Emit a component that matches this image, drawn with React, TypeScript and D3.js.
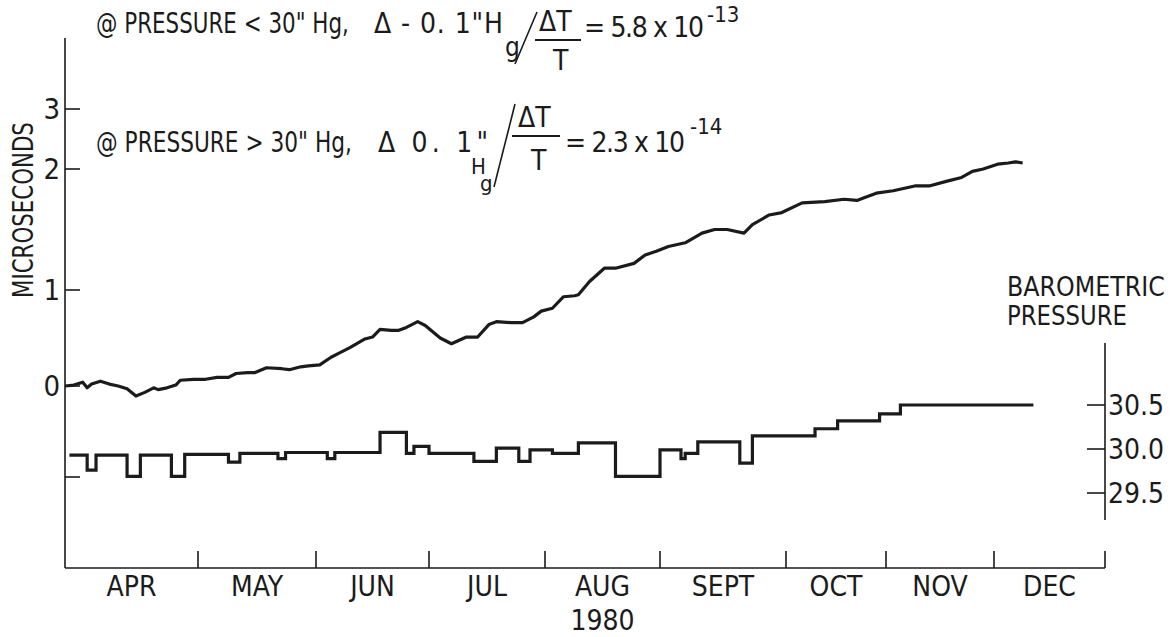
import { useEffect, useRef } from 'react';
import * as d3 from 'd3';

const width = 1174;
const height = 637;
const font = '"Liberation Sans Narrow", "DejaVu Sans Condensed", "Arial Narrow", sans-serif';
const ink = '#1b1b1b';

// x axis: first day of each month, and the month names between them
const monthStarts = ['1980-04-01', '1980-05-01', '1980-06-01', '1980-07-01', '1980-08-01',
                     '1980-09-01', '1980-10-01', '1980-11-01', '1980-12-01', '1981-01-01'];
const monthLabels = ['APR', 'MAY', 'JUN', 'JUL', 'AUG', 'SEPT', 'OCT', 'NOV', 'DEC'];
const yearLabel = '1980';

// left axis (microseconds) and right axis (inches Hg)
const microTicks = [-1, 0, 1, 2, 3];
const microLabels = ['', '0', '1', '2', '3'];
const pressureTicks = [30.5, 30.0, 29.5];
const pressureLabels = ['30.5', '30.0', '29.5'];

// accumulated clock offset, microseconds
const clockDates = [
  '04-01', '04-03', '04-05', '04-06', '04-07', '04-09', '04-11', '04-13', '04-15', '04-17',
  '04-19', '04-21', '04-22', '04-24', '04-26', '04-27', '04-30',
  '05-03', '05-06', '05-09', '05-11', '05-14', '05-16', '05-19', '05-23', '05-25', '05-28', '05-30',
  '06-02', '06-05', '06-07', '06-10', '06-14', '06-16', '06-18', '06-21', '06-23', '06-25', '06-28', '06-30',
  '07-04', '07-07', '07-11', '07-14', '07-17', '07-19', '07-23', '07-26', '07-29', '07-31',
  '08-03', '08-06', '08-09', '08-10', '08-13', '08-17', '08-20', '08-25', '08-28', '08-31',
  '09-03', '09-07', '09-11', '09-14', '09-17', '09-21', '09-23', '09-27', '09-30',
  '10-06', '10-13', '10-19', '10-23', '10-25', '10-29',
  '11-03', '11-09', '11-13', '11-18', '11-22', '11-25', '11-28',
  '12-02', '12-05', '12-07', '12-09'];
const clockMicros = [
  0.00, 0.01, 0.04, -0.02, 0.02, 0.05, 0.02, 0.00, -0.03, -0.11,
  -0.07, -0.02, -0.04, -0.02, 0.01, 0.06, 0.07,
  0.07, 0.09, 0.09, 0.13, 0.14, 0.14, 0.19, 0.18, 0.17, 0.20, 0.21,
  0.22, 0.30, 0.34, 0.40, 0.49, 0.51, 0.59, 0.58, 0.58, 0.61, 0.67, 0.63,
  0.50, 0.44, 0.51, 0.51, 0.64, 0.67, 0.66, 0.66, 0.72, 0.78,
  0.81, 0.93, 0.94, 0.95, 1.07, 1.18, 1.18, 1.22, 1.29, 1.32,
  1.36, 1.39, 1.47, 1.50, 1.50, 1.47, 1.54, 1.62, 1.64,
  1.72, 1.73, 1.75, 1.74, 1.76, 1.80,
  1.82, 1.86, 1.86, 1.90, 1.93, 1.98, 2.00,
  2.08, 2.10, 2.12, 2.10];

// barometric pressure, inches Hg (each value holds until the next date)
const pressureDates = [
  '04-02', '04-06', '04-08', '04-15', '04-18', '04-25', '04-28', '05-09', '05-12', '05-22',
  '05-24', '06-04', '06-06', '06-18', '06-25', '06-27', '07-01', '07-13', '07-19', '07-25',
  '07-28', '08-03', '08-10', '08-20', '09-01', '09-06', '09-07', '09-10', '09-20', '09-23',
  '10-10', '10-17', '10-30', '11-05', '12-12'];
const pressureHg = [
  29.93, 29.76, 29.93, 29.69, 29.93, 29.69, 29.94, 29.85, 29.95, 29.89,
  29.96, 29.89, 29.96, 30.19, 29.95, 30.03, 29.95, 29.86, 30.01, 29.86,
  29.99, 29.95, 30.07, 29.69, 29.99, 29.89, 29.95, 30.08, 29.84, 30.15,
  30.23, 30.32, 30.40, 30.50, 30.50];

// the hand drawn axes are not evenly divided, so the scales are piecewise
const monthEdges = [65, 198, 316, 429, 545, 660, 786, 886, 994, 1105];
const microPx = [477, 386, 290, 169, 109];
const axisBottom = 568;
const leftX = 65;
const rightX = 1105;

const parse = d3.timeParse('%Y-%m-%d');
const x = d3.scaleTime().domain(monthStarts.map(d => parse(d) as Date)).range(monthEdges);
const yMicro = d3.scaleLinear().domain(microTicks).range(microPx);
const yPress = d3.scaleLinear().domain([29.5, 30.5]).range([493, 405]);

// plain text; with len the letter spacing is stretched to that width
function addText(g: any, str: string, px: number, py: number, size: number, len?: number) {
  const t = g.append('text')
    .attr('x', px)
    .attr('y', py)
    .attr('font-size', size)
    .attr('fill', ink)
    .text(str);
  if (len) t.attr('textLength', len).attr('lengthAdjust', 'spacing');
  return t;
}

// text narrowed (or widened) horizontally to a given width
function fitText(g: any, str: string, px: number, py: number, size: number, len: number, rotate = 0) {
  const t = g.append('text')
    .attr('font-size', size)
    .attr('fill', ink)
    .text(str);
  const natural = (t.node() as SVGTextElement).getComputedTextLength();
  const k = natural > 0 ? len / natural : 1;
  const anchor = rotate ? -len / 2 / k : 0;
  t.attr('x', anchor)
    .attr('transform', `translate(${px},${py}) rotate(${rotate}) scale(${k},1)`);
  return t;
}

function drawChart(el: SVGSVGElement) {
  const svg = d3.select(el);
  svg.selectAll('*').remove();
  svg.append('rect').attr('width', width).attr('height', height).attr('fill', '#fff');
  const g = svg.append('g').attr('font-family', font);

  // frame
  g.append('line').attr('x1', leftX).attr('x2', leftX).attr('y1', 38).attr('y2', axisBottom)
    .attr('stroke', ink).attr('stroke-width', 1.6);
  g.append('line').attr('x1', leftX).attr('x2', rightX).attr('y1', axisBottom).attr('y2', axisBottom)
    .attr('stroke', ink).attr('stroke-width', 1.6);
  g.append('line').attr('x1', rightX).attr('x2', rightX).attr('y1', 343).attr('y2', 520)
    .attr('stroke', ink).attr('stroke-width', 1.6);

  // month ticks
  const starts = monthStarts.map(d => parse(d) as Date);
  g.selectAll('line.mtick')
    .data(starts.slice(1))
    .join('line')
    .attr('class', 'mtick')
    .attr('x1', d => x(d)).attr('x2', d => x(d))
    .attr('y1', axisBottom).attr('y2', axisBottom - 17)
    .attr('stroke', ink).attr('stroke-width', 1.6);

  g.selectAll('text.month')
    .data(monthLabels)
    .join('text')
    .attr('class', 'month')
    .attr('x', (d, i) => (x(starts[i]) + x(starts[i + 1])) / 2)
    .attr('y', 596)
    .attr('text-anchor', 'middle')
    .attr('font-size', 28)
    .attr('fill', ink)
    .text(d => d);

  g.append('text')
    .attr('x', (x(starts[4]) + x(starts[5])) / 2)
    .attr('y', 630)
    .attr('text-anchor', 'middle')
    .attr('font-size', 28)
    .attr('fill', ink)
    .text(yearLabel);

  // left ticks
  g.selectAll('line.ytick')
    .data(microTicks)
    .join('line')
    .attr('class', 'ytick')
    .attr('x1', leftX).attr('x2', leftX + 15)
    .attr('y1', d => yMicro(d)).attr('y2', d => yMicro(d))
    .attr('stroke', ink).attr('stroke-width', 1.6);

  g.selectAll('text.ylab')
    .data(microTicks)
    .join('text')
    .attr('class', 'ylab')
    .attr('x', 60)
    .attr('y', d => yMicro(d) + 10)
    .attr('text-anchor', 'end')
    .attr('font-size', 29)
    .attr('fill', ink)
    .text((d, i) => microLabels[i]);

  fitText(g, 'MICROSECONDS', 33, 210, 28, 176, -90);

  // right ticks
  g.selectAll('line.ptick')
    .data(pressureTicks)
    .join('line')
    .attr('class', 'ptick')
    .attr('x1', rightX - 18).attr('x2', rightX)
    .attr('y1', d => yPress(d)).attr('y2', d => yPress(d))
    .attr('stroke', ink).attr('stroke-width', 1.6);

  g.selectAll('text.plab')
    .data(pressureTicks)
    .join('text')
    .attr('class', 'plab')
    .attr('x', rightX + 3)
    .attr('y', d => yPress(d) + 10)
    .attr('font-size', 28)
    .attr('fill', ink)
    .text((d, i) => pressureLabels[i]);

  fitText(g, 'BAROMETRIC', 1007, 296, 26, 158);
  fitText(g, 'PRESSURE', 1007, 325, 26, 120);

  // series
  const clock = clockDates.map((d, i) => ({ date: parse('1980-' + d) as Date, v: clockMicros[i] }));
  const press = pressureDates.map((d, i) => ({ date: parse('1980-' + d) as Date, v: pressureHg[i] }));

  const clockLine = d3.line<any>().x(d => x(d.date)).y(d => yMicro(d.v));
  const pressLine = d3.line<any>().x(d => x(d.date)).y(d => yPress(d.v)).curve(d3.curveStepAfter);

  g.append('path').datum(clock).attr('d', clockLine)
    .attr('fill', 'none').attr('stroke', ink).attr('stroke-width', 3.2)
    .attr('stroke-linejoin', 'round');
  g.append('path').datum(press).attr('d', pressLine)
    .attr('fill', 'none').attr('stroke', ink).attr('stroke-width', 3.2);

  // annotations
  const a = g.append('g');
  fitText(a, '@ PRESSURE < 30" Hg,', 96, 33, 28, 253);
  addText(a, '\u0394 - 0. 1"H', 374, 33, 28, 129);
  addText(a, 'g', 505, 56, 26);
  a.append('line').attr('x1', 515).attr('y1', 64).attr('x2', 537).attr('y2', 12)
    .attr('stroke', ink).attr('stroke-width', 1.6);
  addText(a, '\u0394T', 539, 31, 28);
  a.append('line').attr('x1', 535).attr('y1', 40).attr('x2', 581).attr('y2', 40)
    .attr('stroke', ink).attr('stroke-width', 2);
  addText(a, 'T', 553, 70, 28);
  addText(a, '= 5.8 x 10', 584, 37, 28, 120);
  addText(a, '-13', 707, 22, 22);

  fitText(a, '@ PRESSURE > 30" Hg,', 96, 152, 28, 256);
  addText(a, '\u0394  0. 1"', 378, 152, 28, 110);
  addText(a, 'H', 471, 174, 22);
  addText(a, 'g', 480, 191, 22);
  a.append('line').attr('x1', 494).attr('y1', 187).attr('x2', 515).attr('y2', 104)
    .attr('stroke', ink).attr('stroke-width', 1.6);
  addText(a, '\u0394T', 518, 127, 28);
  a.append('line').attr('x1', 512).attr('y1', 136).attr('x2', 560).attr('y2', 136)
    .attr('stroke', ink).attr('stroke-width', 2);
  addText(a, 'T', 531, 170, 28);
  addText(a, '= 2.3 x 10', 565, 152, 28, 120);
  addText(a, '-14', 690, 134, 22);
}

export default function App() {
  const ref = useRef<SVGSVGElement>(null);

  useEffect(() => {
    if (ref.current) drawChart(ref.current);
  }, []);

  return (
    <svg ref={ref} width={width} height={height}
      style={{ position: 'absolute', left: 0, top: 0, display: 'block' }} />
  );
}
